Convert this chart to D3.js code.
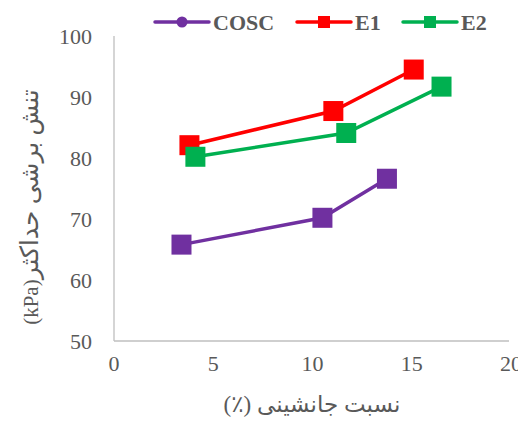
<!DOCTYPE html>
<html><head><meta charset="utf-8">
<script src="https://cdn.jsdelivr.net/npm/d3@7"></script>
<style>body{margin:0;background:#fff}svg{display:block}</style>
</head><body>
<svg id="c" width="518" height="428"></svg>
<script>
const seriesNames = ["COSC", "E1", "E2"];
const seriesColors = ["#7030A0", "#FF0000", "#00B050"];
const coscX = [3.4, 10.5, 13.75];
const coscY = [65.8, 70.2, 76.6];
const e1X = [3.8, 11.05, 15.1];
const e1Y = [82.1, 87.7, 94.5];
const e2X = [4.1, 11.7, 16.5];
const e2Y = [80.2, 84.1, 91.7];
const xTicks = [0, 5, 10, 15, 20];
const yTicks = [50, 60, 70, 80, 90, 100];
const xTitle = "نسبت جانشینی (٪)";
const yTitleFa = "تنش برشی حداکثر";
const yTitleUnit = "(kPa)";

const svg = d3.select("#c");
const x = d3.scaleLinear().domain([0, 20]).range([114, 511]);
const y = d3.scaleLinear().domain([50, 100]).range([341, 36]);
const serif = "'Liberation Serif','Times New Roman','DejaVu Sans',serif";

// axes lines
svg.append("line").attr("x1", x(0)).attr("x2", x(0)).attr("y1", y(100)).attr("y2", y(50))
  .attr("stroke", "#BFBFBF").attr("stroke-width", 1.3);
svg.append("line").attr("x1", x(0)).attr("x2", x(19.9)).attr("y1", y(50)).attr("y2", y(50))
  .attr("stroke", "#BFBFBF").attr("stroke-width", 1.3);

svg.selectAll(".yt").data(yTicks).enter().append("text")
  .attr("x", 92).attr("y", d => y(d)).attr("dy", "0.35em")
  .attr("text-anchor", "end").attr("font-family", serif).attr("font-size", 22)
  .attr("fill", "#595959").text(d => d);
svg.selectAll(".xt").data(xTicks).enter().append("text")
  .attr("x", d => x(d)).attr("y", 371)
  .attr("text-anchor", "middle").attr("font-family", serif).attr("font-size", 22)
  .attr("fill", "#595959").text(d => d);

svg.append("text").attr("x", 312).attr("y", 412).attr("text-anchor", "middle")
  .attr("direction", "rtl").style("direction", "rtl")
  .attr("font-family", serif).attr("font-size", 23).attr("fill", "#595959").text(xTitle);
const yt = svg.append("text").attr("transform", "translate(38,207) rotate(-90)").attr("text-anchor", "middle")
  .attr("direction", "rtl").style("direction", "rtl")
  .attr("font-family", serif).attr("fill", "#595959");
yt.append("tspan").attr("font-size", 25).text(yTitleFa);
yt.append("tspan").attr("font-size", 21).text(yTitleUnit);

const data = [
  coscX.map((v, i) => [v, coscY[i]]),
  e1X.map((v, i) => [v, e1Y[i]]),
  e2X.map((v, i) => [v, e2Y[i]])
];
const line = d3.line().x(d => x(d[0])).y(d => y(d[1]));
data.forEach((pts, k) => {
  svg.append("path").attr("d", line(pts)).attr("fill", "none")
    .attr("stroke", seriesColors[k]).attr("stroke-width", 3.5);
  svg.selectAll(".m" + k).data(pts).enter().append("rect")
    .attr("x", d => x(d[0]) - 10).attr("y", d => y(d[1]) - 10)
    .attr("width", 20).attr("height", 20).attr("fill", seriesColors[k]);
});

// legend
const legX = [155, 297, 403];
seriesNames.forEach((n, k) => {
  const g = svg.append("g").attr("transform", `translate(${legX[k]},22)`);
  g.append("line").attr("x1", 0).attr("x2", 54).attr("y1", 0).attr("y2", 0)
    .attr("stroke", seriesColors[k]).attr("stroke-width", 3.5).attr("stroke-linecap", "round");
  if (k === 0) g.append("circle").attr("cx", 27).attr("cy", 0).attr("r", 5.5).attr("fill", seriesColors[k]);
  else g.append("rect").attr("x", 21).attr("y", -6).attr("width", 12).attr("height", 12).attr("fill", seriesColors[k]);
  g.append("text").attr("x", 58).attr("y", 0).attr("dy", "0.35em")
    .attr("font-family", serif).attr("font-weight", "bold").attr("font-size", 22)
    .attr("fill", "#595959").text(n);
});
</script>
</body></html>
